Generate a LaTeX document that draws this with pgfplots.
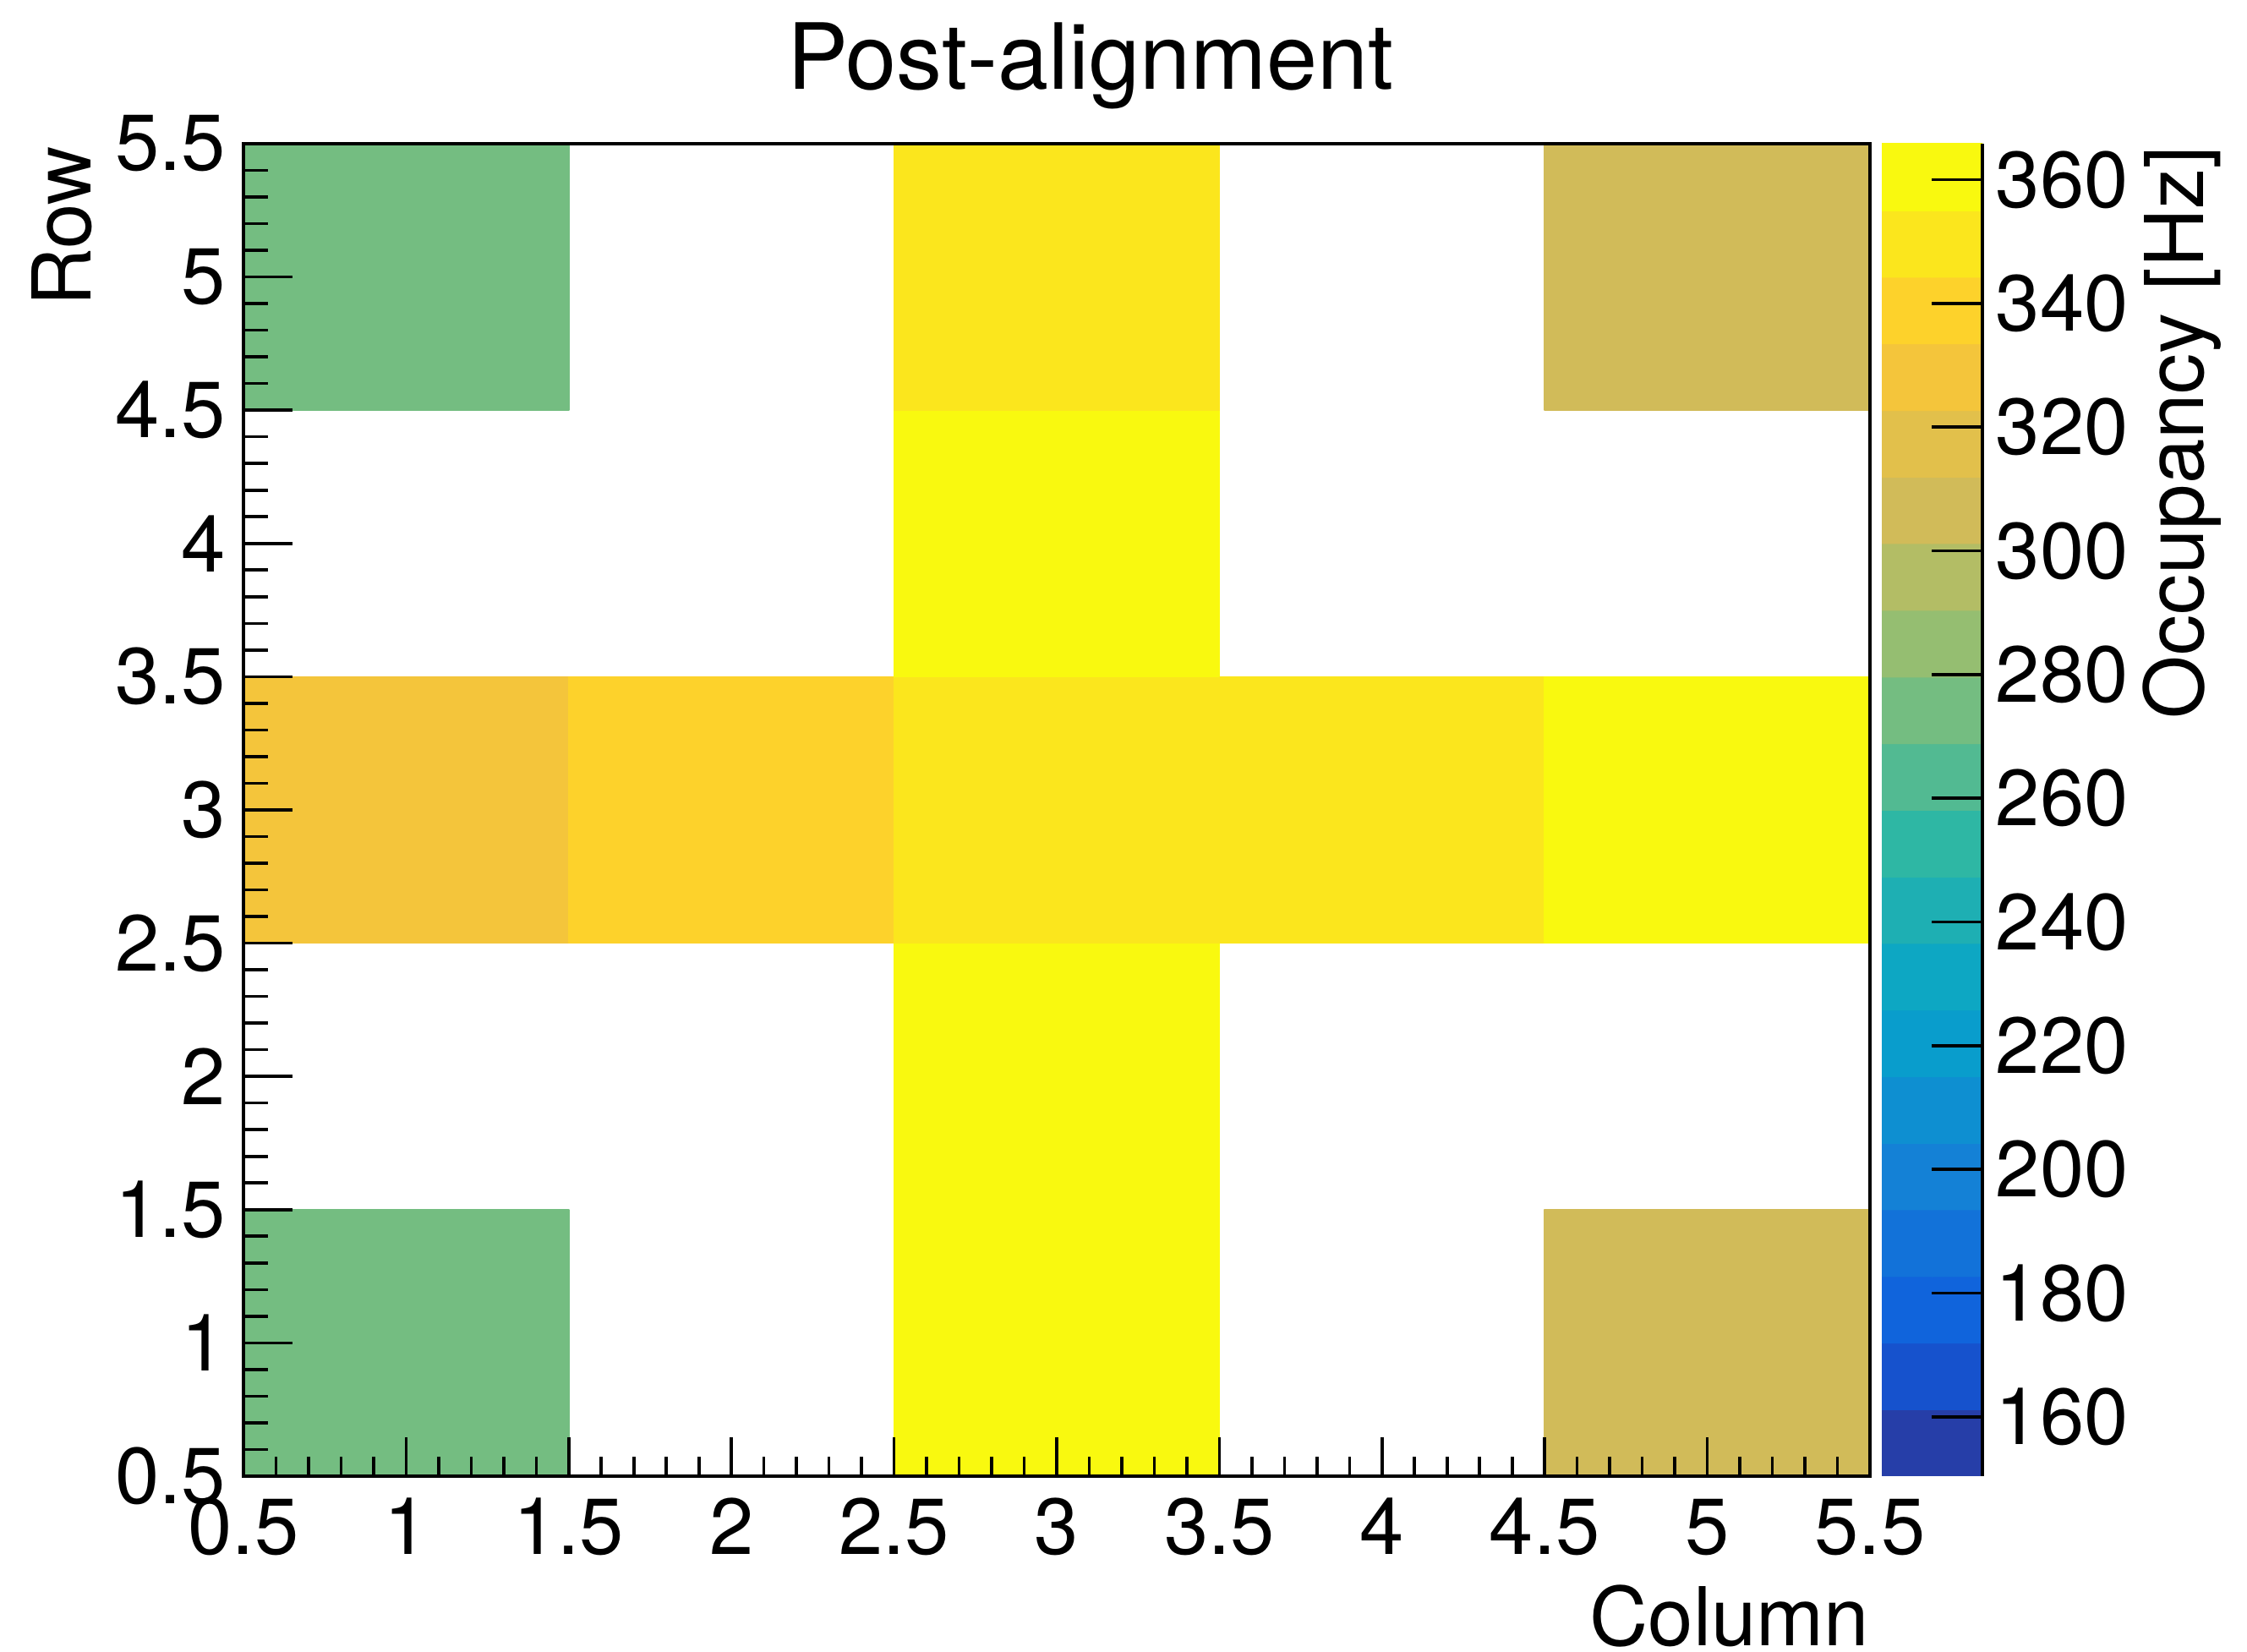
\documentclass[border=0pt]{standalone}
\usepackage{fontspec}
\setmainfont{TeX Gyre Heros}
\usepackage{pgfplots}
\pgfplotsset{compat=1.18}
\usepgfplotslibrary{patchplots}

% 20-step "bird" palette, one colour per equal band
\pgfplotsset{
  colormap={birdsteps}{
    rgb=(0.1505,0.2413,0.6605)
    rgb=(0.0881,0.3224,0.8026)
    rgb=(0.0633,0.3915,0.8619)
    rgb=(0.0704,0.4455,0.8506)
    rgb=(0.0780,0.5041,0.8385)
    rgb=(0.0558,0.5600,0.8194)
    rgb=(0.0335,0.6161,0.8002)
    rgb=(0.0526,0.6561,0.7635)
    rgb=(0.1165,0.6870,0.7030)
    rgb=(0.1802,0.7178,0.6425)
    rgb=(0.3223,0.7305,0.5709)
    rgb=(0.4535,0.7423,0.5048)
    rgb=(0.5842,0.7461,0.4444)
    rgb=(0.7015,0.7395,0.3971)
    rgb=(0.8186,0.7328,0.3499)
    rgb=(0.8850,0.7528,0.2925)
    rgb=(0.9569,0.7745,0.2303)
    rgb=(0.9920,0.8231,0.1700)
    rgb=(0.9842,0.9032,0.1119)
    rgb=(0.9770,0.9771,0.0583)
  },
}

\newcommand{\ticksize}{\fontsize{23.5}{28}\selectfont}
\newcommand{\labelsize}{\fontsize{24}{29}\selectfont}

\begin{document}
\begin{tikzpicture}
\useasboundingbox (0,0) rectangle (664.5pt,488.5pt);

\node[anchor=base, inner sep=0pt, font=\fontsize{27}{32}\selectfont]
  at (322.5pt,462pt) {Post-alignment};

% occupancy map, values in units of 10^3 Hz
\begin{axis}[
  at={(72pt,52pt)}, anchor=south west,
  scale only axis, width=481pt, height=394pt,
  xmin=0.5, xmax=5.5, ymin=0.5, ymax=5.5,
  xtick={0.5,1,...,5.5}, ytick={0.5,1,...,5.5},
  minor tick num=4,
  tick align=inside, tick pos=left,
  xtick style={/pgfplots/major tick length=11.5pt, /pgfplots/minor tick length=5.75pt},
  ytick style={/pgfplots/major tick length=14.5pt, /pgfplots/minor tick length=7.25pt},
  every tick/.style={black, line width=0.9pt},
  axis line style={line width=0.9pt},
  axis on top,
  colormap name=birdsteps, colormap access=piecewise constant,
  point meta min=150.4, point meta max=365.8,
  tick label style={font=\ticksize},
  /pgf/number format/assume math mode=true,
  xticklabel style={anchor=base, inner sep=0pt, yshift=-23.25pt},
  yticklabel style={anchor=east, inner sep=0pt, xshift=-5pt},
  xlabel={Column}, ylabel={Row},
  every axis x label/.style={at={(rel axis cs:1,0)}, anchor=base east,
    inner sep=0pt, yshift=-50.25pt, font=\labelsize},
  every axis y label/.style={at={(rel axis cs:0,1)}, xshift=-45pt, yshift=-0.5pt,
    rotate=90, anchor=base east, inner sep=0pt, font=\labelsize},
]
\addplot[patch, patch type=rectangle, shader=flat mean, point meta=explicit]
  table[meta=v] {
x   y   v
0.5 0.5 274
1.5 0.5 274
1.5 1.5 274
0.5 1.5 274
0.5 2.5 329
1.5 2.5 329
1.5 3.5 329
0.5 3.5 329
0.5 4.5 276
1.5 4.5 276
1.5 5.5 276
0.5 5.5 276
1.5 2.5 340
2.5 2.5 340
2.5 3.5 340
1.5 3.5 340
2.5 0.5 362
3.5 0.5 362
3.5 1.5 362
2.5 1.5 362
2.5 1.5 361
3.5 1.5 361
3.5 2.5 361
2.5 2.5 361
2.5 2.5 350
3.5 2.5 350
3.5 3.5 350
2.5 3.5 350
2.5 3.5 360
3.5 3.5 360
3.5 4.5 360
2.5 4.5 360
2.5 4.5 351
3.5 4.5 351
3.5 5.5 351
2.5 5.5 351
3.5 2.5 348
4.5 2.5 348
4.5 3.5 348
3.5 3.5 348
4.5 0.5 307
5.5 0.5 307
5.5 1.5 307
4.5 1.5 307
4.5 2.5 364
5.5 2.5 364
5.5 3.5 364
4.5 3.5 364
4.5 4.5 308
5.5 4.5 308
5.5 5.5 308
4.5 5.5 308
};
\end{axis}

% colour scale
\begin{axis}[
  at={(556.5pt,52pt)}, anchor=south west,
  scale only axis, width=29.75pt, height=394pt,
  xmin=-0.5, xmax=1.5, ymin=150.4, ymax=365.8,
  axis x line=none, axis y line*=right,
  y axis line style={-, line width=0.9pt},
  xtick=\empty, ytick={160,180,...,360},
  tick align=inside, major tick length=15pt,
  every tick/.style={black, line width=0.9pt},
  axis on top,
  colormap name=birdsteps, colormap access=piecewise constant,
  point meta min=150.4, point meta max=365.8,
  tick label style={font=\ticksize},
  /pgf/number format/assume math mode=true,
  yticklabel style={anchor=west, inner sep=0pt, xshift=3.75pt},
  ylabel={Occupancy [Hz]},
  every axis y label/.style={at={(rel axis cs:1,1)}, xshift=65.25pt, yshift=-0.5pt,
    rotate=90, anchor=base east, inner sep=0pt, font=\labelsize},
]
\addplot[matrix plot*, mesh/cols=2, point meta=y] table {
x y
0 155.8
1 155.8
0 166.6
1 166.6
0 177.3
1 177.3
0 188.1
1 188.1
0 198.9
1 198.9
0 209.6
1 209.6
0 220.4
1 220.4
0 231.2
1 231.2
0 241.9
1 241.9
0 252.7
1 252.7
0 263.5
1 263.5
0 274.2
1 274.2
0 285.0
1 285.0
0 295.8
1 295.8
0 306.6
1 306.6
0 317.3
1 317.3
0 328.1
1 328.1
0 338.9
1 338.9
0 349.6
1 349.6
0 360.4
1 360.4
};
\node[anchor=base west, inner sep=0pt, font=\ticksize]
  at (rel axis cs:1,1) [xshift=1.25pt, yshift=3pt] {×10\textsuperscript{3}};
\end{axis}
\end{tikzpicture}
\end{document}
